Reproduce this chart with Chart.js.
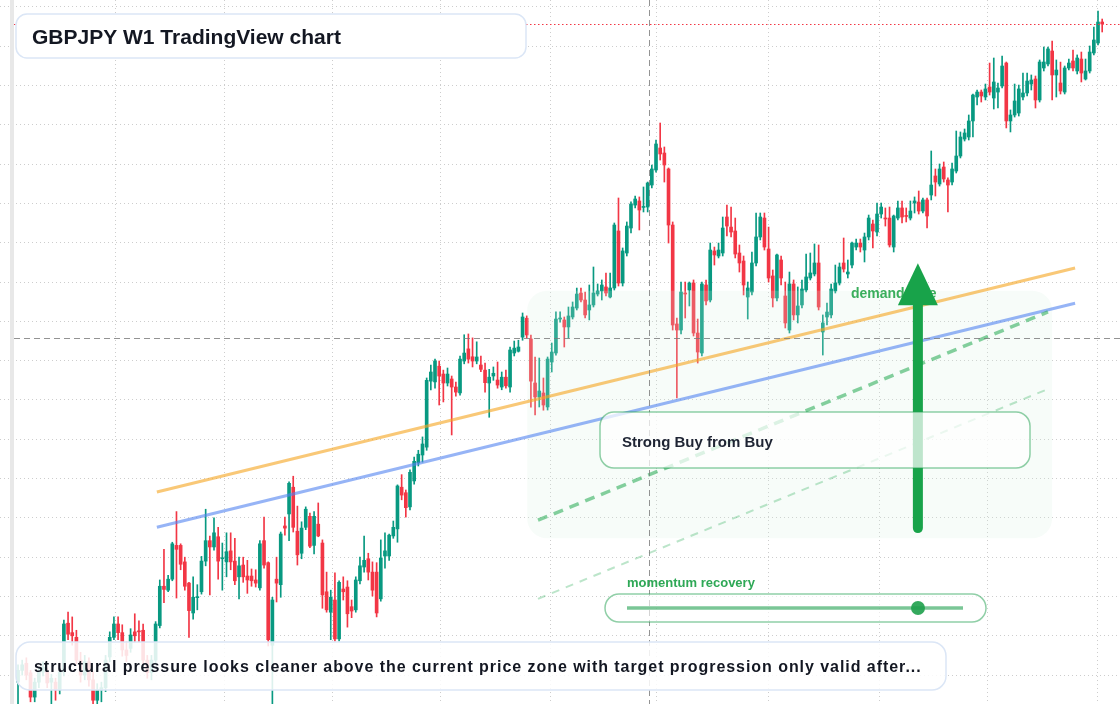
<!DOCTYPE html>
<html>
<head>
<meta charset="utf-8">
<title>GBPJPY W1</title>
<script src="https://cdn.jsdelivr.net/npm/chart.js@4.4.1/dist/chart.umd.min.js"></script>
<style>
  html, body { margin: 0; padding: 0; background: #fff; overflow: hidden; }
  canvas { display: block; }
</style>
</head>
<body>
<canvas id="chart" width="1120" height="704"></canvas>
<script>
// weekly OHLC (oldest first)
const opens = [
  129.1,130.6,131.5,130.3,127.2,129.1,130.4,130.4,129.1,129.1,
  128.1,130.4,136.6,135.4,134.8,131.9,130.0,131.7,129.4,126.8,
  128.1,128.4,132.3,134.8,136.5,135.4,133.2,133.4,135.5,135.6,
  135.7,131.9,130.3,131.9,136.3,141.3,140.8,142.2,146.5,146.5,
  144.4,141.7,137.9,139.85,140.6,144.5,147.1,146.3,147.6,144.8,
  144.4,145.8,144.5,142.5,144.0,142.6,142.6,142.1,141.1,147.1,
  144.3,133.8,142.2,141.5,148.97,150.5,153.9,148.3,145.5,148.8,
  150.2,146.5,149.2,146.8,140.6,138.0,139.55,134.6,140.95,141.2,
  138.7,138.3,142.0,143.75,144.8,143.1,143.1,139.7,145.15,145.15,
  147.7,148.6,153.9,153.2,151.4,154.7,157.0,158.0,159.0,167.4,
  167.3,169.3,168.3,167.16,167.67,166.65,165.9,169.96,171.5,170.5,
  169.96,169.45,168.8,167.16,168.05,167.54,166.65,167.9,166.65,170.98,
  171.2,173.0,175.4,172.76,167.16,165.38,165.89,164.11,169.83,170.98,
  175.3,175.18,174.29,175.56,176.7,178.6,177.72,176.45,177.09,178.48,
  178.87,179.38,178.1,179.25,186.5,179.88,183.7,186.88,189.8,190.32,
  189.5,189.55,192.35,194.26,197.06,196.42,194.39,187.26,174.67,173.9,
  178.61,179.0,179.88,173.52,170.98,179.63,177.72,183.96,183.32,183.7,
  188.28,187.0,186.5,183.7,182.68,178.1,178.74,182.43,185.74,188.15,
  184.21,180.78,177.98,182.81,178.23,173.9,179.76,175.82,177.09,179.0,
  180.52,181.03,182.43,173.65,175.56,175.82,178.87,179.88,182.43,181.03,
  182.17,184.46,184.97,184.08,185.74,187.39,186.37,188.66,188.15,188.15,
  184.46,188.15,189.43,188.41,188.15,190.06,190.19,189.04,190.45,191.08,
  193.5,192.48,194.64,192.99,192.73,194.13,196.04,198.2,198.46,200.5,
  203.55,204.18,203.55,204.82,203.42,204.18,204.95,207.87,200.5,201.26,
  201.51,203.55,204.06,205.2,205.84,203.17,207.24,207.75,209.4,206.35,
  205.33,204.18,207.24,208.13,206.86,208.38,205.84,206.86,209.15,210.42,
  213.09
];
const highs = [
  131.3,131.9,132.2,130.6,129.6,130.9,131.7,130.9,130.1,129.6,
  130.9,137.0,138.0,137.4,135.7,132.9,132.5,132.2,130.4,128.9,
  129.1,132.5,135.5,137.4,137.4,136.4,134.2,135.9,137.8,136.9,
  136.5,132.5,132.5,136.8,142.1,146.0,142.7,146.9,150.8,146.7,
  145.0,141.8,142.5,141.5,145.1,151.1,147.7,150.0,148.8,146.8,
  148.1,148.1,147.4,145.0,145.0,144.6,143.5,143.4,147.1,150.1,
  144.4,139.9,145.0,148.2,150.1,154.6,155.3,151.5,149.5,151.4,
  150.6,150.8,151.9,147.2,143.1,140.8,143.0,142.0,142.5,142.0,
  139.55,142.5,145.0,147.7,145.5,144.4,144.3,147.2,148.1,147.95,
  149.6,154.2,155.5,153.55,156.1,157.75,158.6,160.3,167.8,169.45,
  170.2,169.96,168.8,169.07,168.05,167.29,170.6,173.3,173.4,172.9,
  172.4,170.6,169.7,168.9,169.2,169.83,168.56,168.8,171.74,172.5,
  172.6,176.07,175.7,173.27,170.47,170.34,167.8,170.47,172.25,176.2,
  176.2,175.56,176.83,177.47,179.24,179.24,178.74,179.63,181.92,179.76,
  180.27,181.16,181.16,187.52,190.7,184.34,187.65,190.2,190.95,190.83,
  192.1,192.73,194.9,198.08,200.24,197.19,194.52,187.65,175.43,180.01,
  180.01,180.01,180.27,175.3,180.01,180.27,184.97,184.46,184.97,188.28,
  189.8,189.55,188.15,184.72,183.32,180.01,183.83,188.79,188.79,188.79,
  187.0,181.54,183.57,183.32,180.01,181.28,180.27,179.38,180.27,183.57,
  183.7,184.85,184.72,175.82,177.34,179.76,182.17,182.43,185.61,182.81,
  185.1,185.48,185.48,186.24,188.53,187.9,190.06,190.06,189.43,189.55,
  188.53,190.32,190.32,189.43,190.32,190.83,191.59,190.7,190.7,196.68,
  194.39,195.03,195.28,193.25,195.15,199.22,199.1,199.48,201.26,203.93,
  204.44,204.44,205.2,207.87,208.51,205.33,208.77,208.0,201.9,205.2,
  205.07,206.6,206.6,206.35,206.22,208.26,209.91,209.91,210.67,208.26,
  207.99,207.49,208.38,209.53,208.9,209.27,208.38,210.04,212.45,214.49,
  213.47
];
const lows = [
  126.3,130.0,129.4,126.6,126.6,128.4,129.9,128.4,126.3,126.8,
  127.6,129.9,134.5,133.8,131.4,129.1,129.4,128.6,126.3,126.3,
  126.6,127.9,131.7,134.5,134.5,132.4,131.7,132.9,134.2,134.2,
  131.4,129.6,129.4,131.4,136.0,139.2,140.6,142.0,139.8,143.4,
  140.8,134.8,137.1,138.3,140.3,143.9,140.2,145.9,142.2,140.8,
  142.5,143.4,141.5,139.7,141.8,140.4,141.3,141.2,140.8,143.6,
  133.7,126.2,139.3,139.9,147.8,147.1,148.2,144.0,144.8,148.5,
  146.2,145.4,147.6,138.5,138.0,134.5,134.3,134.3,139.55,136.1,
  137.3,138.0,141.6,143.1,142.1,140.05,137.4,139.4,143.6,144.6,
  147.4,146.9,152.3,150.1,151.0,154.3,156.6,157.1,158.6,166.27,
  166.5,164.36,164.75,166.78,160.55,165.5,165.6,169.6,169.7,169.2,
  169.6,168.6,166.0,162.8,167.5,166.5,166.3,166.5,166.0,170.6,
  171.1,172.6,172.9,164.1,163.09,164.11,163.7,163.72,168.56,170.7,
  174.9,171.74,172.89,175.3,176.45,177.47,175.43,175.18,176.83,178.23,
  177.72,178.23,177.98,178.99,179.5,179.5,183.32,186.25,189.43,186.63,
  188.92,188.92,191.97,194.0,195.53,192.73,184.97,173.9,165.25,173.4,
  175.43,176.96,173.14,169.7,170.6,177.09,177.47,182.17,183.07,183.32,
  185.86,185.74,183.07,181.28,178.36,175.3,178.36,182.05,185.36,184.08,
  180.01,176.83,177.6,179.63,174.16,173.52,175.18,174.8,176.7,178.74,
  180.27,180.78,176.45,170.72,174.54,175.43,178.61,179.63,181.28,180.52,
  181.79,184.08,183.83,182.56,185.36,184.34,185.86,188.15,187.13,184.46,
  183.83,187.9,187.52,187.65,187.9,188.79,188.66,188.79,186.88,190.45,
  190.95,192.22,192.73,188.92,192.35,193.88,195.79,197.95,198.08,198.46,
  202.53,202.91,203.17,203.8,202.02,202.15,204.69,199.61,199.1,201.0,
  201.13,203.17,203.68,204.44,202.15,202.91,206.86,207.49,203.17,203.55,
  203.93,203.93,206.98,206.86,206.48,205.46,205.71,206.6,208.9,210.17,
  211.82
];
const closes = [
  130.6,131.3,130.0,127.2,129.1,130.4,131.0,129.0,129.6,128.1,
  130.4,136.5,135.2,135.0,131.9,130.0,131.7,129.4,126.8,128.1,
  128.4,131.9,134.8,136.5,135.4,133.2,132.5,135.1,135.0,135.5,
  131.9,130.3,131.9,136.5,141.3,140.9,142.2,146.7,146.0,144.1,
  141.3,138.2,139.9,139.95,144.5,147.1,146.3,148.1,144.5,144.9,
  145.7,144.4,142.0,143.9,142.5,142.1,142.0,141.7,146.7,144.0,
  134.5,139.55,141.7,147.95,148.7,154.4,148.8,145.3,148.7,151.1,
  146.4,150.2,147.7,140.2,138.3,139.9,134.6,141.8,140.6,137.8,
  138.15,142.1,143.9,144.6,143.1,140.8,137.9,144.9,145.8,147.8,
  148.8,154.06,152.9,151.3,155.8,157.2,158.1,159.4,167.5,168.56,
  169.96,168.05,167.16,168.3,166.65,166.0,170.2,170.97,170.2,169.96,
  170.47,168.9,167.2,167.9,168.4,166.9,167.9,166.8,171.36,171.6,
  171.74,175.56,173.27,167.4,165.38,166.14,164.36,170.21,171.1,175.3,
  175.43,174.29,175.69,176.83,178.48,177.72,175.82,177.09,178.61,178.87,
  179.63,178.61,179.25,187.26,179.88,183.96,187.13,189.93,190.57,189.17,
  189.55,192.61,194.39,197.57,196.3,194.9,187.26,174.54,173.9,178.74,
  178.48,179.88,173.52,171.1,179.76,177.6,184.08,183.45,184.08,186.88,
  187.13,186.37,183.57,182.43,179.63,179.25,182.43,185.74,188.28,184.46,
  180.52,177.98,183.45,180.52,174.8,179.76,175.82,176.96,179.12,180.65,
  181.16,182.43,176.83,174.8,176.19,179.12,179.88,181.92,181.66,181.28,
  184.97,184.97,184.46,185.74,188.15,186.5,188.66,189.55,188.03,184.72,
  188.41,189.43,188.28,188.35,189.04,190.32,189.04,190.45,188.41,192.35,
  192.73,194.39,193.12,192.35,194.39,196.04,198.46,198.97,200.5,203.8,
  204.18,203.68,204.57,204.18,205.46,204.69,207.49,200.5,201.26,203.04,
  204.57,204.06,205.58,205.71,203.17,208.0,208.0,209.66,206.35,206.98,
  204.31,207.24,207.87,207.24,208.51,206.6,206.86,209.27,210.8,213.09,
  212.84
];

// grid: week positions of the vertical lines, price levels of the horizontal ones
const weekTicks = [23.3, 49.4, 75.5, 101.2, 127.6, 153.2, 179.9, 206.5, 232.6, 258.8];
const priceTicks = [130, 135, 140, 145, 150, 155, 160, 165, 170, 175, 180, 185, 190, 195, 200, 205, 210, 215];

// drawings (week index, price)
const orangeLine = [{ x: 33.3, y: 153.3 }, { x: 253.5, y: 181.8 }];
const blueLine = [{ x: 33.3, y: 148.8 }, { x: 253.5, y: 177.3 }];
const targetPath = [{ x: 124.7, y: 149.7 }, { x: 247.0, y: 176.2 }];
const lowerPath = [{ x: 124.7, y: 139.7 }, { x: 247.0, y: 166.4 }];
const crossWeek = 151.3, crossPrice = 172.9;
const arrowWeek = 215.8, arrowFrom = 148.7, arrowTo = 182.4;
const zoneWeeks = [122.1, 248.0], zonePrices = [147.4, 178.9];

const UP = '#089981', DOWN = '#f23645';
const weeks = opens.map((_, i) => i);
const candleColors = weeks.map(i => closes[i] >= opens[i] ? UP : DOWN);

function rr(ctx, x, y, w, h, r) {
  ctx.beginPath();
  ctx.roundRect(x, y, w, h, r);
}

const annotations = {
  id: 'annotations',
  afterDatasetDraw(chart, args) {
    if (args.index !== 1) return;
    const { ctx, scales: { x, y } } = chart;
    const l = x.getPixelForValue(zoneWeeks[0]), r = x.getPixelForValue(zoneWeeks[1]);
    const t = y.getPixelForValue(zonePrices[1]), b = y.getPixelForValue(zonePrices[0]);
    ctx.save();
    ctx.fillStyle = 'rgba(215,240,225,0.2)';
    rr(ctx, l, t, r - l, b - t, 20);
    ctx.fill();
    ctx.restore();
  },
  afterDatasetsDraw(chart) {
    const { ctx, scales: { x, y } } = chart;
    const W = chart.width, H = chart.height;
    ctx.save();

    // crosshair
    ctx.lineWidth = 1;
    ctx.strokeStyle = 'rgba(120,120,120,0.8)';
    ctx.setLineDash([6, 4]);
    const cx = Math.round(x.getPixelForValue(crossWeek)) + 0.5;
    const cy = Math.round(y.getPixelForValue(crossPrice)) + 0.5;
    ctx.beginPath();
    ctx.moveTo(cx, 0); ctx.lineTo(cx, H);
    ctx.moveTo(14, cy); ctx.lineTo(W, cy);
    ctx.stroke();

    // last price
    ctx.strokeStyle = DOWN;
    ctx.setLineDash([1.5, 2.5]);
    const ly = Math.round(y.getPixelForValue(closes[closes.length - 1])) + 0.5;
    ctx.beginPath();
    ctx.moveTo(14, ly); ctx.lineTo(W, ly);
    ctx.stroke();
    ctx.setLineDash([]);

    // label under the arrow
    ctx.font = 'bold 14px "Liberation Sans", Arial, sans-serif';
    ctx.fillStyle = '#3aae5c';
    ctx.fillText('demand side', 851, 298);

    // arrow
    const ax = x.getPixelForValue(arrowWeek);
    const ay0 = y.getPixelForValue(arrowFrom), ay1 = y.getPixelForValue(arrowTo);
    ctx.strokeStyle = '#18a34a';
    ctx.fillStyle = '#18a34a';
    ctx.lineWidth = 10;
    ctx.lineCap = 'round';
    ctx.beginPath();
    ctx.moveTo(ax, ay0); ctx.lineTo(ax, ay1 + 38);
    ctx.stroke();
    ctx.beginPath();
    ctx.moveTo(ax, ay1);
    ctx.lineTo(ax - 20, ay1 + 42);
    ctx.lineTo(ax + 20, ay1 + 42);
    ctx.closePath();
    ctx.fill();
    ctx.lineCap = 'butt';

    // signal box
    rr(ctx, 600, 412, 430, 56, 14);
    ctx.fillStyle = 'rgba(255,255,255,0.72)';
    ctx.fill();
    ctx.lineWidth = 1.5;
    ctx.strokeStyle = 'rgba(34,160,80,0.5)';
    ctx.stroke();
    ctx.font = 'bold 15px "Liberation Sans", Arial, sans-serif';
    ctx.fillStyle = '#1e2433';
    ctx.fillText('Strong Buy from Buy', 622, 447);

    // momentum slider
    ctx.font = 'bold 13px "Liberation Sans", Arial, sans-serif';
    ctx.fillStyle = '#2ea856';
    ctx.fillText('momentum recovery', 627, 587);
    rr(ctx, 605, 594, 381, 28, 14);
    ctx.fillStyle = 'rgba(255,255,255,0.6)';
    ctx.fill();
    ctx.strokeStyle = 'rgba(34,160,80,0.5)';
    ctx.stroke();
    ctx.strokeStyle = 'rgba(34,160,80,0.6)';
    ctx.lineWidth = 3.5;
    ctx.beginPath();
    ctx.moveTo(627, 608); ctx.lineTo(963, 608);
    ctx.stroke();
    ctx.fillStyle = 'rgba(30,160,75,0.9)';
    ctx.beginPath();
    ctx.arc(918, 608, 7, 0, Math.PI * 2);
    ctx.fill();

    // title
    rr(ctx, 16, 14, 510, 44, 11);
    ctx.fillStyle = '#ffffff';
    ctx.fill();
    ctx.lineWidth = 1.5;
    ctx.strokeStyle = '#dbe6f6';
    ctx.stroke();
    ctx.font = 'bold 21px "Liberation Sans", Arial, sans-serif';
    ctx.fillStyle = '#131722';
    ctx.fillText('GBPJPY W1 TradingView chart', 32, 44);

    // caption
    rr(ctx, 16, 642, 930, 48, 14);
    ctx.fillStyle = 'rgba(255,255,255,0.86)';
    ctx.fill();
    ctx.strokeStyle = '#dbe6f6';
    ctx.stroke();
    ctx.font = 'bold 16px "Liberation Sans", Arial, sans-serif';
    ctx.letterSpacing = '0.95px';
    ctx.fillStyle = '#131722';
    ctx.fillText('structural pressure looks cleaner above the current price zone with target progression only valid after...', 34, 672);
    ctx.letterSpacing = '0px';

    ctx.restore();
  },
  afterDraw(chart) {
    const ctx = chart.ctx;
    ctx.save();
    ctx.fillStyle = '#e8e8e8';
    ctx.fillRect(10, 0, 4, chart.height);
    ctx.restore();
  }
};

const gridLines = { color: '#cdcdcd', lineWidth: 1, drawTicks: false, offset: false };

new Chart(document.getElementById('chart'), {
  type: 'bar',
  data: {
    datasets: [
      {
        label: 'wicks',
        data: weeks.map(i => ({ x: i, y: [lows[i], highs[i]] })),
        backgroundColor: candleColors,
        barThickness: 1,
        grouped: false,
        order: 5
      },
      {
        label: 'bodies',
        data: weeks.map(i => ({ x: i, y: [opens[i], closes[i]] })),
        backgroundColor: candleColors,
        barThickness: 3,
        minBarLength: 1,
        grouped: false,
        order: 4
      },
      {
        type: 'line', label: 'resistance', data: orangeLine,
        borderColor: 'rgba(245,166,35,0.62)', borderWidth: 3, pointRadius: 0, order: 3
      },
      {
        type: 'line', label: 'support', data: blueLine,
        borderColor: 'rgba(80,130,240,0.6)', borderWidth: 3, pointRadius: 0, order: 3
      },
      {
        type: 'line', label: 'target path', data: targetPath,
        borderColor: 'rgba(34,170,80,0.55)', borderWidth: 3.5, borderDash: [10, 7], pointRadius: 0, order: 2
      },
      {
        type: 'line', label: 'lower path', data: lowerPath,
        borderColor: 'rgba(34,170,80,0.3)', borderWidth: 2, borderDash: [8, 7], pointRadius: 0, order: 2
      }
    ]
  },
  options: {
    responsive: false,
    devicePixelRatio: 1,
    animation: false,
    events: [],
    layout: { padding: 0 },
    plugins: { legend: { display: false }, tooltip: { enabled: false } },
    scales: {
      x: {
        type: 'linear',
        min: -4.32,
        max: 264.27,
        offset: false,
        grid: gridLines,
        border: { display: false, dash: [1, 3] },
        ticks: { display: false },
        afterBuildTicks: s => { s.ticks = weekTicks.map(v => ({ value: v })); },
        afterFit: s => { s.height = 0; }
      },
      y: {
        type: 'linear',
        min: 126.32,
        max: 215.89,
        grid: gridLines,
        border: { display: false, dash: [1, 3] },
        ticks: { display: false },
        afterBuildTicks: s => { s.ticks = priceTicks.map(v => ({ value: v })); },
        afterFit: s => { s.width = 0; }
      }
    }
  },
  plugins: [annotations]
});
</script>
</body>
</html>
